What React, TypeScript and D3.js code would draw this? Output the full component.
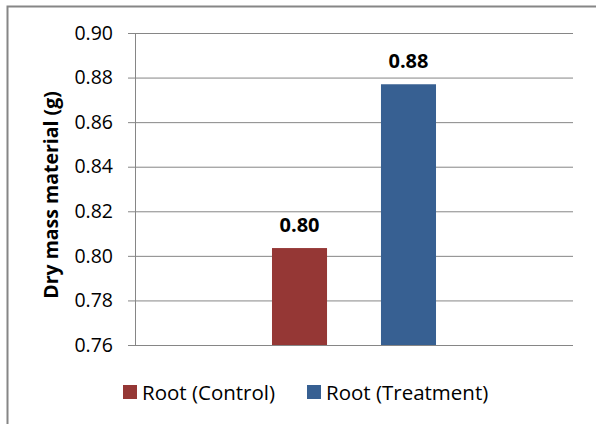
import React, { useEffect, useRef } from "react";
import * as d3 from "d3";

const categories = ["Root"];
const seriesNames = ["Root (Control)", "Root (Treatment)"];
const seriesValues = [0.8035, 0.877];
const valueLabels = ["0.80", "0.88"];
const yTicks = [0.76, 0.78, 0.8, 0.82, 0.84, 0.86, 0.88, 0.9];
const seriesColors = ["#953735", "#376092"];

const W = 596;
const H = 424;
const FONT = "'Open Sans', 'Noto Sans', sans-serif";

export default function App() {
  const svgRef = useRef<SVGSVGElement>(null);

  useEffect(() => {
    document.body.style.margin = "0";
    if (!svgRef.current) return;
    const svg = d3.select(svgRef.current);
    svg.selectAll("*").remove();

    // outer frame (runs off the right and bottom edge)
    svg
      .append("rect")
      .attr("x", 7.5)
      .attr("y", 6.5)
      .attr("width", W + 20)
      .attr("height", H + 20)
      .attr("fill", "white")
      .attr("stroke", "#868686")
      .attr("stroke-width", 2);

    const plot = { left: 135, right: 573, top: 33, bottom: 345 };

    const y = d3
      .scaleLinear()
      .domain([0.76, 0.9])
      .range([plot.bottom, plot.top]);

    const x0 = d3
      .scaleBand()
      .domain(categories)
      .range([plot.left, plot.right]);

    const x1 = d3
      .scaleBand()
      .domain(seriesNames)
      .range([0, x0.bandwidth()])
      .paddingInner(0.495)
      .paddingOuter(1.257);

    // grid lines + y axis
    const yAxis = d3
      .axisLeft(y)
      .tickValues(yTicks)
      .tickSize(-(plot.right - plot.left))
      .tickPadding(22)
      .tickFormat((d) => d3.format(".2f")(d as number));

    const gy = svg
      .append("g")
      .attr("transform", `translate(${plot.left},0)`)
      .call(yAxis);
    gy.select(".domain").remove();
    gy.selectAll(".tick line")
      .attr("stroke", "#868686")
      .attr("stroke-width", 1)
      .attr("x1", -7);
    gy.selectAll(".tick text")
      .attr("fill", "#000")
      .style("font-family", FONT)
      .style("font-size", "19.5px");

    // vertical axis line
    svg
      .append("line")
      .attr("x1", plot.left + 0.5)
      .attr("x2", plot.left + 0.5)
      .attr("y1", plot.top)
      .attr("y2", plot.bottom)
      .attr("stroke", "#868686");

    // bars
    const g = svg.append("g").attr("transform", `translate(${x0("Root")},0)`);
    seriesNames.forEach((s, i) => {
      const v = seriesValues[i];
      g.append("rect")
        .attr("x", x1(s)!)
        .attr("y", y(v))
        .attr("width", x1.bandwidth())
        .attr("height", plot.bottom - y(v))
        .attr("fill", seriesColors[i]);
      g.append("text")
        .attr("x", x1(s)! + x1.bandwidth() / 2)
        .attr("y", y(v) - 16)
        .attr("text-anchor", "middle")
        .style("font-family", FONT)
        .style("font-size", "20px")
        .style("font-weight", "bold")
        .text(valueLabels[i]);
    });

    // y axis title
    svg
      .append("text")
      .attr("transform", `translate(58,195) rotate(-90)`)
      .attr("text-anchor", "middle")
      .style("font-family", FONT)
      .style("font-size", "19.5px")
      .style("font-weight", "bold")
      .text("Dry mass material (g)");

    // legend
    const legendX = [123, 307];
    seriesNames.forEach((s, i) => {
      svg
        .append("rect")
        .attr("x", legendX[i])
        .attr("y", 385)
        .attr("width", 14)
        .attr("height", 14)
        .attr("fill", seriesColors[i]);
      svg
        .append("text")
        .attr("x", legendX[i] + 19)
        .attr("y", 400)
        .style("font-family", FONT)
        .style("font-size", "20.5px")
        .text(s);
    });
  }, []);

  return <svg ref={svgRef} width={W} height={H} style={{ display: "block" }} />;
}
